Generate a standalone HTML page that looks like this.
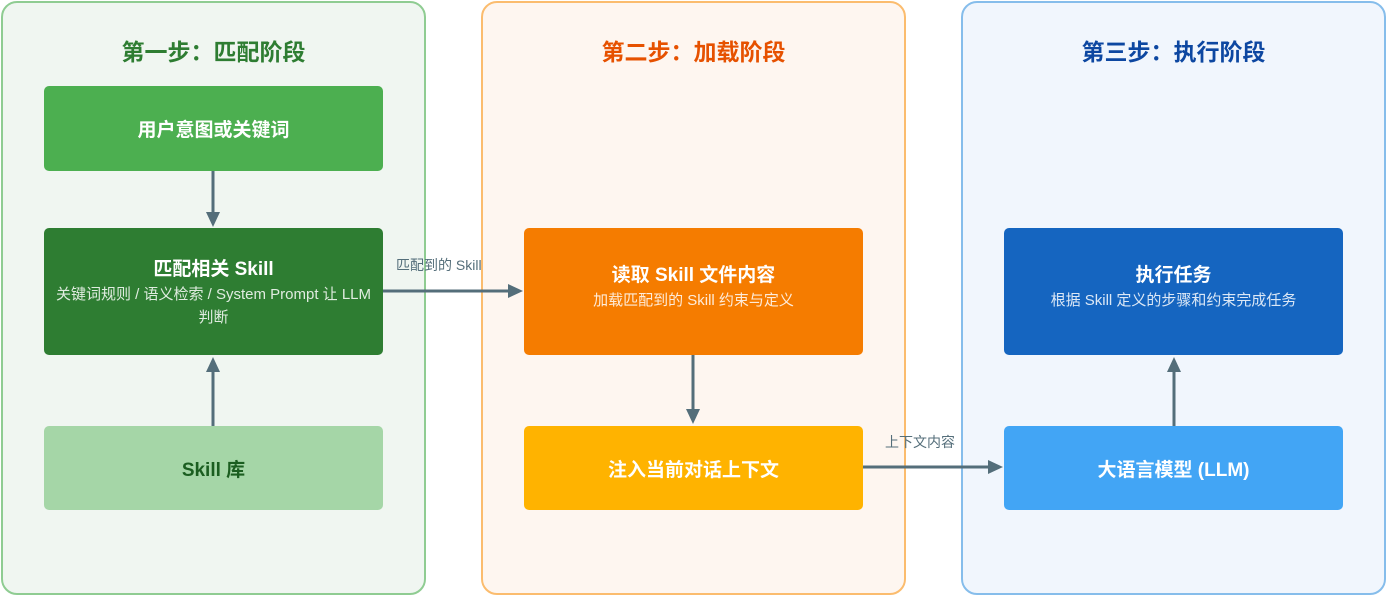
<!DOCTYPE html>
<html><head><meta charset="utf-8"><style>
*{margin:0;padding:0;box-sizing:border-box}
body{width:1388px;height:596px;background:#fff;position:relative;overflow:hidden;font-family:"Liberation Sans","Noto Sans CJK SC",sans-serif}
.p{position:absolute;top:1px;width:425px;height:594px;border:2px solid;border-radius:16px}
.t{position:absolute;top:30px;width:100%;text-align:center;font-size:23px;font-weight:bold}
.b{position:absolute;width:339px;border-radius:5px;color:#fff;text-align:center;display:flex;flex-direction:column;justify-content:center;align-items:center}
.h{font-size:19px;font-weight:bold}
.s{font-size:15px;line-height:23px;color:rgba(255,255,255,.85)}
.l{position:absolute;font-size:14px;color:#546e7a}
</style></head><body>
<div class="p" style="left:1px;background:#f0f6f1;border-color:#8fcc92"><div class="t" style="color:#2e7d32">第一步：匹配阶段</div></div>
<div class="p" style="left:481px;background:#fef6f0;border-color:#fbbc6e"><div class="t" style="color:#e65100">第二步：加载阶段</div></div>
<div class="p" style="left:961px;background:#f1f6fd;border-color:#86bdeb"><div class="t" style="color:#0d47a1">第三步：执行阶段</div></div>

<div class="b" style="left:44px;top:86px;height:85px;background:#4caf50"><div class="h">用户意图或关键词</div></div>
<div class="b" style="left:44px;top:228px;height:127px;background:#2e7d32"><div class="h">匹配相关 Skill</div><div class="s" style="padding:2px 8px 0">关键词规则 / 语义检索 / System Prompt 让 LLM 判断</div></div>
<div class="b" style="left:44px;top:426px;height:84px;background:#a5d6a7;color:#1b5e20"><div class="h">Skill 库</div></div>

<div class="b" style="left:524px;top:228px;height:127px;background:#f57c00;padding-bottom:12px"><div class="h">读取 Skill 文件内容</div><div class="s" style="margin-top:2px">加载匹配到的 Skill 约束与定义</div></div>
<div class="b" style="left:524px;top:426px;height:84px;background:#ffb300"><div class="h">注入当前对话上下文</div></div>

<div class="b" style="left:1004px;top:228px;height:127px;background:#1565c0;padding-bottom:12px"><div class="h">执行任务</div><div class="s" style="margin-top:2px">根据 Skill 定义的步骤和约束完成任务</div></div>
<div class="b" style="left:1004px;top:426px;height:84px;background:#42a5f5"><div class="h">大语言模型 (LLM)</div></div>

<div class="l" style="left:396px;top:255px">匹配到的 Skill</div>
<div class="l" style="left:885px;top:432px">上下文内容</div>

<svg width="1388" height="596" style="position:absolute;left:0;top:0" fill="#546e7a" stroke="#546e7a">
<line x1="213" y1="171" x2="213" y2="214" stroke-width="3"/><polygon points="206,212 220,212 213,227" stroke="none"/>
<line x1="213" y1="426" x2="213" y2="370" stroke-width="3"/><polygon points="206,372 220,372 213,357" stroke="none"/>
<line x1="383" y1="291" x2="510" y2="291" stroke-width="3"/><polygon points="508,284 508,298 523,291" stroke="none"/>
<line x1="693" y1="355" x2="693" y2="410" stroke-width="3"/><polygon points="686,409 700,409 693,424" stroke="none"/>
<line x1="863" y1="467" x2="990" y2="467" stroke-width="3"/><polygon points="988,460 988,474 1003,467" stroke="none"/>
<line x1="1174" y1="426" x2="1174" y2="370" stroke-width="3"/><polygon points="1167,372 1181,372 1174,357" stroke="none"/>
</svg>
</body></html>
